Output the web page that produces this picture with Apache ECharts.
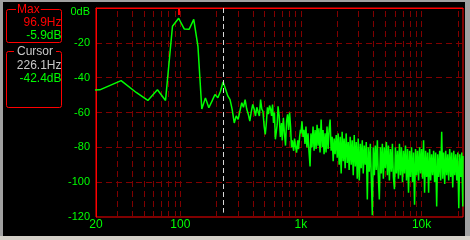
<!DOCTYPE html>
<html><head><meta charset="utf-8">
<script src="https://cdn.jsdelivr.net/npm/echarts@6/dist/echarts.min.js"></script>
<style>
html,body{margin:0;padding:0;width:470px;height:240px;overflow:hidden;background:#a0a0a0;}
#bot{position:absolute;left:0;top:236px;width:470px;height:4px;background:#d4d0c8;}
#frame{position:absolute;left:3px;top:2px;width:462px;height:234px;background:#000;}
#chart{position:absolute;left:0;top:0;width:470px;height:240px;}
</style></head><body>
<div id="frame"></div><div id="bot"></div><div id="chart"></div>
<script>
// ---- data ----
const freqHz = [
 10.8,21.5,32.3,43.1,53.8,64.6,75.4,86.1,96.9,107.7,118.4,129.2,140.0,150.7,161.5,172.3,183.0,193.8,204.6,215.3,
 226.1,236.9,247.6,258.4,269.2,280.0,290.7,301.5,312.3,323.0,333.8,344.5,355.3,366.1,376.8,387.6,398.3,409.1,419.9,430.7,
 441.4,452.2,462.9,473.7,484.5,495.3,506.0,516.8,527.6,538.3,549.1,559.9,570.6,581.4,592.2,602.9,613.7,624.5,635.3,646.0,
 660,675,690,700,715,730,745,760,775,790,805,820,835,850,870,885,900,920,940,955,975,990,
 1000,1020,1040,1060,1080,1100,1120,1145,1165,1190,
 1210,1235,1260,1285,1310,1335,1360,1385,1410,1440,
 1470,1500,1525,1555,1585,1615,1645,1680,1710,1745,
 1780,1815,1850,1885,1920,1960,2000,2035,2075,2115,
 2155,2195,2240,2280,2325,2370,2420,2465,2510,2560,
 2610,2660,2715,2765,2820,2875,2930,2985,3045,3105,
 3160,3225,3285,3350,3415,3480,3550,3615,3685,3760,
 3830,3905,3980,4060,4135,4215,4300,4380,4465,4555,
 4640,4730,4820,4915,5010,5110,5210,5310,5410,5515,
 5625,5730,5840,5955,6070,6190,6310,6430,6555,6680,
 6810,6945,7080,7215,7355,7500,7645,7795,7945,8100,
 8255,8415,8580,8745,8915,9090,9265,9445,9630,9815,
 10000,10190,10390,10590,10800,11010,11220,11440,11660,11890,
 12110,12350,12590,12830,13080,13340,13590,13860,14130,14400,
 14680,14960,15250,15550,15850,16160,16470,16790,17110,17450,
 17780,18130,18480,18840,19200,19580,19950,20340,20730,21130,
 21540,21960,22050
];
const levelDb = [
 -48,-47,-41.7,-48.5,-53.1,-46.9,-53.1,-10.5,-5.9,-12.0,-12.2,-6.5,-22,-58,-51.6,-57.3,-53.5,-49.7,-51.5,-47.8,
 -42.4,-46.5,-50.5,-52.6,-58.3,-66,-62,-64,-59,-54.4,-57,-52.6,-58,-61,-65,-59.5,-55.4,-58,-62,-57,
 -56,-62,-52.6,-58,-59.5,-67.8,-72.6,-66,-57,-61,-56,-58,-62,-55.4,-66,-60,-75.4,-76,-67,-56.4,
 -62,-74,-66,-76,-63,-72,-79,-65,-61,-70,-60,-68,-80,-76,-82,-75,-79,-83,-76,-81,-74,-70,
 -72,-65,-74,-70,-78,-68,-80,-72,-82,-91,
 -72,-80,-68,-82,-70,-81,-67,-79,-69,-83,
 -64,-80,-70,-84,-72,-83,-68,-81,-70,-64,
 -82,-74,-88,-75,-84,-73,-86,-72,-90,-74,
 -95,-71,-88,-75,-92,-72,-89,-77,-93,-74,
 -90,-76,-96,-73,-91,-77,-98,-75,-99,-78,
 -92,-76,-95,-79,-90,-77,-110,-80,-94,-78,
 -97,-119,-80,-96,-79,-93,-76,-97,-110,-80,
 -95,-78,-98,-80,-92,-77,-96,-79,-99,-81,
 -94,-78,-97,-104,-80,-95,-82,-98,-78,-96,
 -80,-100,-82,-95,-79,-99,-81,-106,-82,-97,
 -80,-100,-83,-113,-81,-96,-82,-99,-80,-95,
 -81,-98,-76,-106,-82,-97,-83,-106,-81,-99,
 -84,-96,-82,-100,-83,-114,-84,-97,-82,-99,
 -71,-98,-83,-101,-82,-96,-84,-99,-81,-97,
 -83,-103,-82,-96,-84,-99,-83,-115,-84,-97,
 -83,-114,-85
];
const gridFreqs = [30,40,50,60,70,80,90,100,200,300,400,500,600,700,800,900,1000,2000,3000,4000,5000,6000,7000,8000,9000,10000,20000];
const tickFreqs = [20].concat(gridFreqs);
const xTickValues = [20,100,1000,10000];
const xTickLabels = ['20','100','1k','10k'];
const cursorFreq = 226.1;
const cursorLevel = -42.4;

// ---- derived (max) ----
let maxIdx = 0;
for (let i = 1; i < levelDb.length; i++) if (levelDb[i] > levelDb[maxIdx]) maxIdx = i;
const maxFreq = freqHz[maxIdx], maxLevel = levelDb[maxIdx];

const FONT = 'Liberation Sans';
const chart = echarts.init(document.getElementById('chart'), null, {renderer:'canvas'});
chart.setOption({
  animation: false,
  backgroundColor: 'transparent',
  grid: {left:96, top:8, right:7, bottom:23, show:true, borderColor:'#ff0000', borderWidth:1, backgroundColor:'transparent', containLabel:false, outerBoundsMode:'none'},
  xAxis: {
    type:'log', logBase:10, min:20, max:22050,
    axisLine:{show:true, lineStyle:{color:'#ff0000', width:1}},
    axisTick:{show:false}, splitLine:{show:false}, minorTick:{show:false}, minorSplitLine:{show:false},
    axisLabel:{color:'#00ff00', fontFamily:FONT, fontSize:12, margin:2, hideOverlap:false,
      formatter: function(v){
        for (let i = 0; i < xTickValues.length; i++) if (Math.abs(v - xTickValues[i]) / xTickValues[i] < 0.01) return xTickLabels[i];
        return '';
      }}
  },
  yAxis: {
    type:'value', min:-120, max:0, interval:20,
    axisLine:{show:true, lineStyle:{color:'#ff0000', width:1}},
    axisTick:{show:false},
    splitLine:{show:true, lineStyle:{color:'#800000', type:[6,4], width:1}},
    axisLabel:{color:'#00ff00', fontFamily:FONT, fontSize:11, margin:6,
      formatter: function(v){ return v === 0 ? '{t|0dB}' : String(v); },
      rich:{t:{color:'#00ff00', fontFamily:FONT, fontSize:11, padding:[7,0,0,0]}}}
  },
  series: [
    {
      type:'line', data:[], clip:false, silent:true, z:1,
      markLine:{
        silent:true, symbol:'none', animation:false, z:1,
        label:{show:false}, emphasis:{disabled:true},
        lineStyle:{color:'#800000', type:[6,4], width:1},
        data: gridFreqs.map(f => ({xAxis:f}))
          .concat(tickFreqs.map(f => [{coord:[f,-120], lineStyle:{color:'#ff0000', type:'solid', width:1}}, {coord:[f,-121.8]}]))
      }
    },
    {
      type:'line', data: freqHz.map((f,i) => [f, levelDb[i]]),
      showSymbol:false, symbol:'none', clip:true, z:3,
      lineStyle:{color:'#00ff00', width:1.5}, silent:true
    },
    {
      type:'line', data:[], clip:false, silent:true, z:4,
      markLine:{
        silent:true, symbol:'none', animation:false, z:4,
        label:{show:false}, emphasis:{disabled:true},
        data:[
          [{coord:[cursorFreq,0], lineStyle:{color:'#d8d8d8', type:[5,3], width:1}}, {coord:[cursorFreq,-117.5]}],
          [{coord:[maxFreq,0], lineStyle:{color:'#ff0000', type:'solid', width:2}}, {coord:[maxFreq,-4]}]
        ]
      }
    }
  ],
  graphic: [
    {type:'rect', shape:{x:6.5, y:9.5, width:55, height:33, r:2}, style:{fill:'transparent', stroke:'#ff0000', lineWidth:1}, z:10},
    {type:'rect', shape:{x:6.5, y:51.5, width:55, height:56, r:2}, style:{fill:'transparent', stroke:'#ff0000', lineWidth:1}, z:10},
    {type:'text', x:16, y:10, z:11, style:{text:'Max', fill:'#ff0000', font:'12px "Liberation Sans"', align:'left', verticalAlign:'middle', backgroundColor:'#000', padding:[0,1]}},
    {type:'text', x:61.5, y:23, z:11, style:{text:maxFreq.toFixed(1)+'Hz', fill:'#ff0000', font:'12px "Liberation Sans"', align:'right', verticalAlign:'middle'}},
    {type:'text', x:61.5, y:36, z:11, style:{text:maxLevel.toFixed(1)+'dB', fill:'#00ff00', font:'12px "Liberation Sans"', align:'right', verticalAlign:'middle'}},
    {type:'text', x:14, y:52, z:11, style:{text:'Cursor', fill:'#c8c8c8', font:'12px "Liberation Sans"', align:'left', verticalAlign:'middle', backgroundColor:'#000', padding:[0,3]}},
    {type:'text', x:61.5, y:66, z:11, style:{text:cursorFreq.toFixed(1)+'Hz', fill:'#c8c8c8', font:'12px "Liberation Sans"', align:'right', verticalAlign:'middle'}},
    {type:'text', x:61.5, y:79, z:11, style:{text:cursorLevel.toFixed(1)+'dB', fill:'#00ff00', font:'12px "Liberation Sans"', align:'right', verticalAlign:'middle'}}
  ]
});
</script>
</body></html>
